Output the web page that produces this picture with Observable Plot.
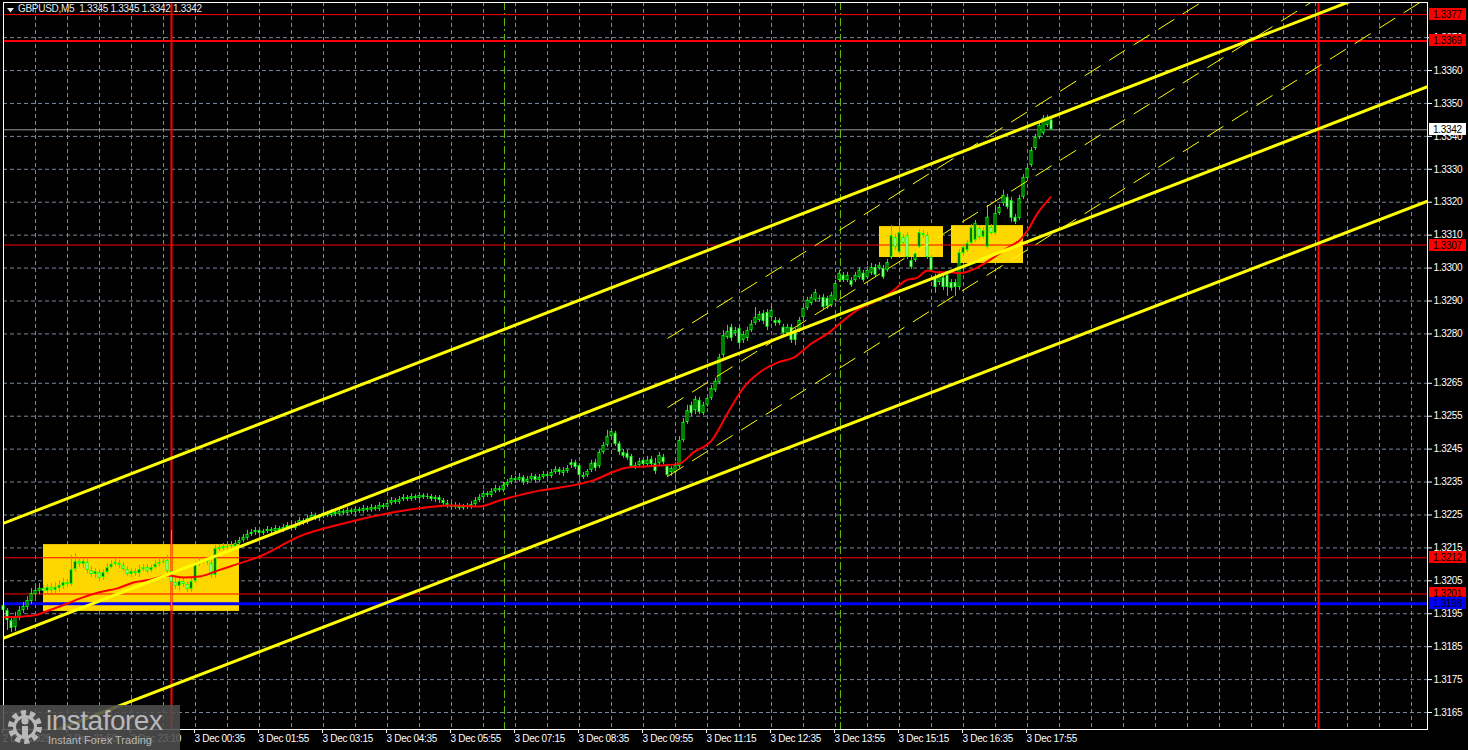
<!DOCTYPE html>
<html><head><meta charset="utf-8">
<script src="https://cdn.jsdelivr.net/npm/d3@7"></script>
<script src="https://cdn.jsdelivr.net/npm/@observablehq/plot@0.6"></script>
<style>
html,body{margin:0;padding:0;background:#000;overflow:hidden;}
#wrap{position:relative;width:1468px;height:750px;background:#000;}
#title{position:absolute;left:18px;top:2px;font:10px 'Liberation Sans',Arial,sans-serif;letter-spacing:-0.3px;line-height:14px;color:#e8e8e8;white-space:pre;}
#tri{position:absolute;left:7px;top:8px;}
#wm{position:absolute;left:0;top:705px;width:180px;height:45px;background:rgba(78,78,78,0.88);}
#wm .big{position:absolute;left:46px;top:2px;font:28px 'Liberation Sans',Arial,sans-serif;line-height:28px;color:#b8b8b8;letter-spacing:-0.5px;}
#wm .small{position:absolute;left:48px;top:30px;font:11px 'Liberation Sans',Arial,sans-serif;line-height:11px;color:#b8b8b8;}
</style></head>
<body><div id="wrap"></div>
<script>
// ---------- data ----------
const open = [1.31975,1.31960,1.31929,1.31908,1.31939,1.31960,1.31969,1.31987,1.32008,1.32018,1.32027,1.32018,1.32030,1.32021,1.32027,1.32033,1.32045,1.32039,1.32084,1.32109,1.32100,1.32106,1.32081,1.32069,1.32075,1.32060,1.32075,1.32090,1.32100,1.32103,1.32097,1.32084,1.32069,1.32078,1.32072,1.32084,1.32090,1.32081,1.32090,1.32100,1.32106,1.32112,1.32078,1.32045,1.32033,1.32048,1.32039,1.32024,1.32048,1.32100,1.32106,1.32112,1.32103,1.32066,1.32145,1.32148,1.32151,1.32154,1.32154,1.32163,1.32172,1.32179,1.32191,
1.32197,1.32203,1.32194,1.32200,1.32206,1.32200,1.32209,1.32203,1.32212,1.32218,1.32209,1.32221,1.32233,1.32227,1.32239,1.32248,1.32239,1.32245,1.32255,1.32248,1.32258,1.32251,1.32261,1.32255,1.32264,1.32258,1.32267,1.32261,1.32270,1.32264,1.32273,1.32267,1.32279,1.32273,1.32285,1.32294,1.32288,1.32297,1.32303,1.32297,1.32306,1.32300,1.32309,1.32303,1.32306,1.32297,1.32303,1.32294,1.32285,1.32279,1.32273,1.32279,1.32270,1.32276,1.32273,1.32282,1.32294,1.32303,1.32315,1.32309,1.32321,1.32330,1.32324,1.32340,1.32349,1.32361,1.32355,1.32364,1.32349,1.32358,1.32367,1.32355,1.32364,1.32373,1.32367,1.32379,1.32388,
1.32376,1.32382,1.32409,1.32409,1.32400,1.32364,1.32370,1.32385,1.32409,1.32397,1.32440,1.32461,1.32488,1.32498,1.32467,1.32440,1.32437,1.32428,1.32397,1.32400,1.32416,1.32403,1.32419,1.32406,1.32406,1.32425,1.32397,1.32379,1.32379,1.32397,1.32476,1.32531,1.32583,1.32567,1.32598,1.32558,1.32583,1.32604,1.32628,1.32652,1.32735,1.32789,1.32820,1.32801,1.32817,1.32780,1.32786,1.32810,1.32832,1.32841,1.32862,1.32865,1.32850,1.32841,1.32841,1.32820,1.32801,1.32820,1.32810,1.32810,1.32850,1.32877,1.32892,1.32902,1.32905,1.32911,1.32908,1.32886,1.32902,1.32962,1.32978,1.32962,1.32962,1.32962,1.32971,1.32984,1.32971,1.32984,1.33002,1.32999,1.32999,1.32993,1.33032,1.33093,1.33047,1.33093,1.33099,1.33023,1.33023,1.33063,1.33099,1.33099,1.33032,1.32971,1.32956,1.32971,1.32978,1.32956,1.32956,1.32941,1.33044,1.33053,1.33075,1.33084,1.33120,1.33093,1.33063,1.33123,1.33105,1.33166,1.33196,1.33215,1.33205,1.33154,1.33151,1.33215,1.33272,1.33312,1.33363,1.33397,1.33409,1.33433,1.33450];
const high = [1.31990,1.31966,1.31942,1.31954,1.31972,1.31984,1.32002,1.32027,1.32033,1.32042,1.32036,1.32039,1.32042,1.32045,1.32051,1.32057,1.32054,1.32127,1.32133,1.32121,1.32118,1.32115,1.32093,1.32087,1.32084,1.32084,1.32103,1.32112,1.32118,1.32112,1.32106,1.32093,1.32087,1.32087,1.32097,1.32100,1.32100,1.32097,1.32112,1.32115,1.32118,1.32127,1.32203,1.32057,1.32057,1.32057,1.32048,1.32057,1.32109,1.32121,1.32124,1.32121,1.32112,1.32157,1.32160,1.32163,1.32163,1.32169,1.32172,1.32182,1.32191,1.32203,1.32206,
1.32212,1.32209,1.32206,1.32215,1.32212,1.32218,1.32215,1.32221,1.32227,1.32224,1.32230,1.32242,1.32239,1.32248,1.32258,1.32255,1.32251,1.32264,1.32261,1.32267,1.32264,1.32270,1.32267,1.32273,1.32270,1.32276,1.32273,1.32279,1.32276,1.32282,1.32279,1.32288,1.32285,1.32294,1.32303,1.32300,1.32306,1.32312,1.32309,1.32315,1.32312,1.32318,1.32315,1.32315,1.32312,1.32309,1.32309,1.32300,1.32294,1.32285,1.32288,1.32285,1.32282,1.32285,1.32291,1.32303,1.32312,1.32324,1.32321,1.32330,1.32340,1.32337,1.32349,1.32358,1.32370,1.32367,1.32376,1.32370,1.32367,1.32376,1.32373,1.32373,1.32382,1.32379,1.32388,1.32397,1.32394,
1.32394,1.32400,1.32419,1.32416,1.32406,1.32379,1.32388,1.32416,1.32419,1.32446,1.32470,1.32507,1.32513,1.32504,1.32473,1.32449,1.32446,1.32434,1.32409,1.32422,1.32425,1.32428,1.32428,1.32422,1.32440,1.32434,1.32403,1.32397,1.32409,1.32488,1.32543,1.32583,1.32592,1.32610,1.32607,1.32592,1.32613,1.32643,1.32665,1.32738,1.32810,1.32826,1.32829,1.32820,1.32826,1.32807,1.32820,1.32841,1.32880,1.32868,1.32871,1.32874,1.32886,1.32850,1.32847,1.32829,1.32829,1.32829,1.32817,1.32850,1.32886,1.32911,1.32920,1.32935,1.32917,1.32920,1.32914,1.32926,1.32962,1.32993,1.32987,1.32987,1.32971,1.32987,1.33002,1.32993,1.33005,1.33014,1.33011,1.33017,1.33008,1.33026,1.33129,1.33102,1.33151,1.33102,1.33108,1.33032,1.33053,1.33117,1.33114,1.33108,1.33038,1.32981,1.32990,1.32981,1.32987,1.32965,1.32965,1.33057,1.33072,1.33084,1.33132,1.33145,1.33129,1.33123,1.33190,1.33132,1.33190,1.33193,1.33236,1.33224,1.33215,1.33163,1.33221,1.33284,1.33312,1.33366,1.33406,1.33442,1.33464,1.33464,1.33450];
const low = [1.31954,1.31899,1.31893,1.31896,1.31929,1.31951,1.31960,1.31978,1.31999,1.32008,1.32008,1.32008,1.32011,1.32008,1.32015,1.32024,1.32030,1.32033,1.32075,1.32090,1.32087,1.32072,1.32060,1.32057,1.32048,1.32051,1.32069,1.32087,1.32093,1.32087,1.32078,1.32063,1.32060,1.32063,1.32060,1.32078,1.32072,1.32075,1.32084,1.32093,1.32100,1.32072,1.31960,1.32024,1.32018,1.32030,1.32015,1.32015,1.32042,1.32093,1.32100,1.32097,1.32057,1.32057,1.32139,1.32142,1.32145,1.32148,1.32148,1.32157,1.32166,1.32172,1.32185,
1.32188,1.32185,1.32188,1.32194,1.32191,1.32194,1.32197,1.32197,1.32206,1.32203,1.32203,1.32215,1.32218,1.32221,1.32233,1.32233,1.32230,1.32239,1.32242,1.32242,1.32245,1.32245,1.32248,1.32248,1.32251,1.32251,1.32255,1.32255,1.32258,1.32258,1.32261,1.32261,1.32267,1.32267,1.32279,1.32282,1.32282,1.32291,1.32291,1.32291,1.32294,1.32294,1.32297,1.32297,1.32291,1.32288,1.32285,1.32279,1.32270,1.32264,1.32267,1.32264,1.32264,1.32267,1.32267,1.32276,1.32288,1.32297,1.32303,1.32303,1.32315,1.32318,1.32318,1.32333,1.32343,1.32346,1.32349,1.32340,1.32343,1.32352,1.32346,1.32349,1.32358,1.32361,1.32361,1.32373,1.32370,
1.32367,1.32376,1.32391,1.32388,1.32361,1.32358,1.32364,1.32379,1.32382,1.32391,1.32434,1.32455,1.32482,1.32458,1.32431,1.32422,1.32416,1.32391,1.32388,1.32394,1.32397,1.32397,1.32394,1.32373,1.32400,1.32403,1.32364,1.32367,1.32361,1.32391,1.32470,1.32525,1.32549,1.32555,1.32555,1.32552,1.32577,1.32598,1.32622,1.32646,1.32728,1.32783,1.32777,1.32792,1.32762,1.32771,1.32777,1.32804,1.32826,1.32835,1.32829,1.32810,1.32844,1.32823,1.32826,1.32792,1.32795,1.32771,1.32765,1.32804,1.32844,1.32871,1.32886,1.32896,1.32896,1.32874,1.32874,1.32880,1.32896,1.32956,1.32956,1.32956,1.32941,1.32956,1.32965,1.32956,1.32965,1.32978,1.32971,1.32993,1.32965,1.32987,1.33026,1.33053,1.33041,1.33066,1.33026,1.32996,1.33017,1.33057,1.33090,1.33026,1.32987,1.32923,1.32947,1.32932,1.32914,1.32929,1.32914,1.32932,1.33035,1.33047,1.33069,1.33078,1.33084,1.33087,1.33057,1.33099,1.33099,1.33160,1.33187,1.33178,1.33139,1.33132,1.33145,1.33208,1.33266,1.33306,1.33357,1.33391,1.33403,1.33427,1.33420];
const close = [1.31960,1.31929,1.31905,1.31939,1.31960,1.31972,1.31990,1.32011,1.32021,1.32027,1.32018,1.32030,1.32021,1.32030,1.32036,1.32045,1.32039,1.32084,1.32109,1.32100,1.32109,1.32081,1.32069,1.32078,1.32057,1.32075,1.32090,1.32100,1.32106,1.32097,1.32084,1.32069,1.32078,1.32072,1.32084,1.32090,1.32078,1.32090,1.32100,1.32106,1.32109,1.32078,1.32045,1.32033,1.32048,1.32039,1.32024,1.32048,1.32100,1.32109,1.32112,1.32106,1.32066,1.32148,1.32151,1.32154,1.32154,1.32157,1.32163,1.32172,1.32182,1.32191,1.32197,
1.32203,1.32194,1.32200,1.32206,1.32200,1.32209,1.32203,1.32212,1.32218,1.32209,1.32221,1.32233,1.32227,1.32239,1.32248,1.32239,1.32245,1.32255,1.32248,1.32258,1.32251,1.32261,1.32255,1.32264,1.32258,1.32267,1.32261,1.32270,1.32264,1.32273,1.32267,1.32279,1.32273,1.32285,1.32294,1.32288,1.32297,1.32303,1.32297,1.32306,1.32300,1.32309,1.32303,1.32306,1.32297,1.32303,1.32294,1.32285,1.32279,1.32273,1.32279,1.32270,1.32276,1.32273,1.32282,1.32294,1.32303,1.32315,1.32309,1.32321,1.32330,1.32324,1.32340,1.32349,1.32361,1.32355,1.32364,1.32349,1.32358,1.32367,1.32355,1.32364,1.32373,1.32367,1.32379,1.32388,1.32379,
1.32385,1.32391,1.32400,1.32394,1.32370,1.32370,1.32382,1.32406,1.32391,1.32440,1.32461,1.32488,1.32504,1.32464,1.32440,1.32428,1.32422,1.32397,1.32400,1.32412,1.32403,1.32416,1.32403,1.32382,1.32431,1.32409,1.32370,1.32391,1.32400,1.32476,1.32531,1.32567,1.32558,1.32601,1.32561,1.32583,1.32604,1.32634,1.32656,1.32728,1.32795,1.32807,1.32786,1.32810,1.32771,1.32798,1.32810,1.32829,1.32850,1.32859,1.32838,1.32820,1.32871,1.32832,1.32832,1.32801,1.32820,1.32780,1.32780,1.32841,1.32877,1.32902,1.32911,1.32926,1.32908,1.32880,1.32883,1.32917,1.32953,1.32984,1.32962,1.32978,1.32947,1.32978,1.32993,1.32962,1.32993,1.33002,1.32978,1.33008,1.32971,1.33017,1.33099,1.33063,1.33108,1.33075,1.33032,1.33002,1.33044,1.33108,1.33105,1.33032,1.32993,1.32941,1.32981,1.32941,1.32941,1.32938,1.32941,1.33047,1.33063,1.33075,1.33123,1.33136,1.33093,1.33114,1.33154,1.33105,1.33166,1.33184,1.33221,1.33184,1.33151,1.33139,1.33211,1.33275,1.33303,1.33357,1.33397,1.33433,1.33455,1.33458,1.33420];

// moving average (red)
const maIndex = [0,7.5,12,16,19,24,28.5,32.5,37,41,45,49,53.5,57.5,62,64,74,86,99,112,119,124,134,139,143.5,147.5,152,156,160,164,169,172.5,177,181,185,189,193.5,197.5,202,206,210,214,218.5,222.5,225.5,228.5,231,233.5,237,239,243.5,247.5,252,254,256,258.5,261.75];
const maValue = [1.31939,1.31945,1.31963,1.31981,1.31996,1.32015,1.32027,1.32045,1.32054,1.32066,1.32060,1.32063,1.32081,1.32097,1.32115,1.32124,1.32185,1.32227,1.32261,1.32279,1.32276,1.32294,1.32324,1.32333,1.32343,1.32355,1.32379,1.32394,1.32397,1.32400,1.32406,1.32440,1.32476,1.32558,1.32637,1.32683,1.32713,1.32728,1.32771,1.32801,1.32841,1.32877,1.32902,1.32932,1.32962,1.32971,1.32993,1.32987,1.32987,1.32984,1.33002,1.33032,1.33069,1.33084,1.33114,1.33166,1.33215];

// axis ticks
const yTicks = [1.3165,1.3175,1.3185,1.3195,1.3205,1.3215,1.3225,1.3235,1.3245,1.3255,1.3265,1.3280,1.3290,1.3300,1.3310,1.3320,1.3330,1.3340,1.3350,1.3360,1.3370];
const xTickIndex = [0,16,32,48,64,80,96,112,128,144,160,176,192,208,224,240,256];
const xTickLabels = ["2 Dec 2025","2 Dec 21:50","2 Dec 23:10","3 Dec 00:35","3 Dec 01:55","3 Dec 03:15","3 Dec 04:35","3 Dec 05:55","3 Dec 07:15","3 Dec 08:35","3 Dec 09:55","3 Dec 11:15","3 Dec 12:35","3 Dec 13:55","3 Dec 15:15","3 Dec 16:35","3 Dec 17:55"];
const vGridIndex = [0,8,16,24,32,40,48,56,64,72,80,88,96,104,112,120,128,136,144,152,160,168,176,184,192,200,208,216,224,232,240,248,256,264,272,280,288,296,304,312,320,328,336,344,352];

// objects
const boxStart = [10,219,237];
const boxEnd   = [59,235,255];
const boxLow   = [1.31957,1.33032,1.33014];
const boxHigh  = [1.32160,1.33126,1.33129];

const redThin   = [1.3377,1.3307,1.3212,1.3201];
const redThick  = [1.3369];
const grayLevel = [1.3342];
const blueLevel = [1.3198];
const dayLines = [42,328.75];
const sessionLines = [125.25,209.25];

const channelX1 = [-1,-1,-1];
const channelY1 = [1.32220,1.31871,1.31530];
const channelX2 = [356,356,356];
const channelY2 = [1.33901,1.33551,1.33203];

const dashX1 = [166,166,166];
const dashY1 = [1.32786,1.32576,1.32367];
const dashX2 = [356,356,356];
const dashY2 = [1.34240,1.34030,1.33821];

const labelPrice = [1.3377,1.3369,1.3342,1.3307,1.3212,1.3201,1.3198];
const labelBg    = ["#ff0000","#ff0000","#ffffff","#ff0000","#ff0000","#ff0000","#0000ff"];

// ---------- build ----------
const bars = open.map((o,i)=>({i, o, h: high[i], l: low[i], c: close[i]}));
const ma = maIndex.map((i,k)=>({i, v: maValue[k]}));
const boxes = boxStart.map((s,k)=>({x1:s, x2:boxEnd[k], y1:boxLow[k], y2:boxHigh[k]}));
const channels = channelX1.map((x,k)=>({x1:x, y1:channelY1[k], x2:channelX2[k], y2:channelY2[k]}));
const dashes = dashX1.map((x,k)=>({x1:x, y1:dashY1[k], x2:dashX2[k], y2:dashY2[k]}));
const lbl = new Map(xTickIndex.map((v,k)=>[v, xTickLabels[k]]));
const grid = "#778899";
const FONT = "'Liberation Sans', Arial, sans-serif";

const plot = Plot.plot({
  width: 1468, height: 750,
  marginLeft: 3, marginRight: 41, marginTop: 2, marginBottom: 21,
  style: {background: "#000", color: "#fff", fontFamily: FONT, fontSize: "10px", letterSpacing: "-0.3px", overflow: "visible"},
  x: {domain: [0, 356]},
  y: {domain: [1.3159836, 1.338067]},
  color: {type: "identity"},
  marks: [
    Plot.ruleY(yTicks, {stroke: grid, strokeDasharray: "4,3"}),
    Plot.ruleX(vGridIndex, {stroke: grid, strokeDasharray: "4,3"}),
    Plot.rect(boxes, {x1: "x1", x2: "x2", y1: "y1", y2: "y2", fill: "#ffd700"}),
    Plot.ruleX(sessionLines, {stroke: "#7cfc00", strokeOpacity: 0.75, strokeDasharray: "8,3,2,3"}),
    Plot.ruleY(grayLevel, {stroke: "#9a9a9a"}),
    Plot.ruleY(redThin, {stroke: "#ff0000"}),
    Plot.ruleY(redThick, {stroke: "#ff0000", strokeWidth: 2}),
    Plot.ruleY(blueLevel, {stroke: "#0000ff", strokeWidth: 3}),
    Plot.ruleX(dayLines, {stroke: "#ff0000", strokeWidth: 2}),
    Plot.ruleX(bars, {x: "i", y1: "l", y2: "h", stroke: "#00ff00"}),
    Plot.rect(bars, {x1: d => d.i - 0.375, x2: d => d.i + 0.375, y1: "o", y2: "c", fill: "#00ff00"}),
    Plot.rect(bars.filter(d => Math.abs(d.c - d.o) > 0.00008),
      {x1: d => d.i - 0.125, x2: d => d.i + 0.125, y1: "o", y2: "c", insetTop: 1, insetBottom: 1,
       fill: d => d.c >= d.o ? "#000000" : "#ffffff"}),
    Plot.line(ma, {x: "i", y: "v", stroke: "#ff0000", strokeWidth: 2, curve: "monotone-x"}),
    Plot.link(channels, {x1: "x1", y1: "y1", x2: "x2", y2: "y2", stroke: "#ffff00", strokeWidth: 3, clip: true}),
    Plot.link(dashes, {x1: "x1", y1: "y1", x2: "x2", y2: "y2", stroke: "#ffff00", strokeWidth: 1, strokeDasharray: "19,10", clip: true}),
    Plot.frame({stroke: "#ffffff"}),
    Plot.axisY({anchor: "right", ticks: yTicks, tickFormat: d3.format(".4f"), tickSize: 4, tickPadding: 2}),
    Plot.axisX({ticks: xTickIndex, tickFormat: d => lbl.get(d), tickSize: 4, tickPadding: 1, textAnchor: "start", dx: -1})
  ]
});

// coloured price labels on the right scale
const ys = plot.scale("y");
const gL = d3.select(plot).append("g")
  .attr("font-family", FONT).attr("font-size", 10).attr("text-anchor", "start");
labelPrice.forEach((p, k) => {
  const y = Math.round(ys.apply(p));
  gL.append("rect").attr("x", 1429).attr("y", y - 6).attr("width", 37).attr("height", 12).attr("fill", labelBg[k]);
  gL.append("text").attr("x", 1433).attr("y", y + 3.5).attr("text-anchor", "start")
    .attr("fill", "#000").attr("letter-spacing", "-0.3px").text(d3.format(".4f")(p));
});

const wrap = document.getElementById("wrap");
wrap.appendChild(plot);
wrap.insertAdjacentHTML("beforeend", `
<svg id="tri" width="7" height="5"><polygon points="0,0 7,0 3.5,4.5" fill="#e8e8e8"/></svg>
<div id="title">GBPUSD,M5  1.3345 1.3345 1.3342 1.3342</div>
<div id="wm">
  <svg width="44" height="44" style="position:absolute;left:4px;top:1px">
    <circle cx="21" cy="21" r="14" fill="none" stroke="#b8b8b8" stroke-width="6" stroke-dasharray="5,3.8"/>
    <circle cx="21" cy="21" r="10.5" fill="none" stroke="#b8b8b8" stroke-width="3"/>
    <circle cx="21" cy="15" r="3.6" fill="#b8b8b8"/>
    <rect x="18" y="20" width="6" height="12" fill="#b8b8b8"/>
  </svg>
  <div class="big">instaforex</div>
  <div class="small">Instant Forex Trading</div>
</div>`);
</script>
</body></html>
